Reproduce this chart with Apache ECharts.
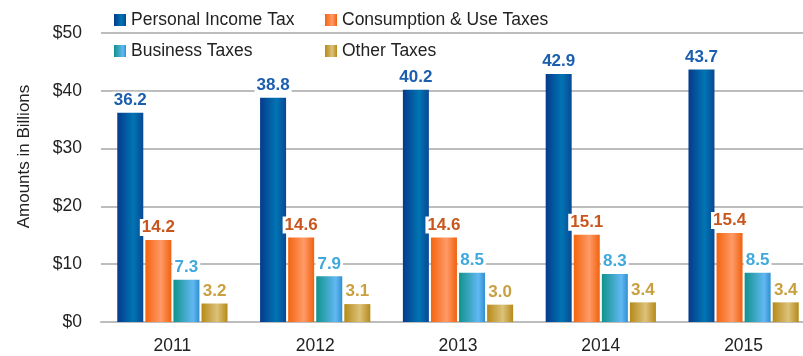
<!DOCTYPE html>
<html>
<head>
<meta charset="utf-8">
<script src="https://cdn.jsdelivr.net/npm/echarts@6/dist/echarts.min.js"></script>
<style>
  html, body { margin: 0; padding: 0; background: #fff; }
  #chart { width: 803px; height: 356px; }
</style>
</head>
<body>
<div id="chart"></div>
<script>
// Tax revenue by year, in billions of dollars
const years = ['2011', '2012', '2013', '2014', '2015'];
const personalIncome = [36.2, 38.8, 40.2, 42.9, 43.7];
const consumptionUse = [14.2, 14.6, 14.6, 15.1, 15.4];
const business = [7.3, 7.9, 8.5, 8.3, 8.5];
const other = [3.2, 3.1, 3.0, 3.4, 3.4];
const yTicks = [0, 10, 20, 30, 40, 50];

const FONT = '"Liberation Sans", Arial, sans-serif';
const TEXT_SIZE = 17.5;

function hGrad(stops) {
  return new echarts.graphic.LinearGradient(0, 0, 1, 0,
    stops.map(([o, c]) => ({ offset: o, color: c })));
}

const fills = {
  personal: hGrad([[0, '#063a8c'], [0.62, '#0075b3'], [1, '#0a4894']]),
  consumption: hGrad([[0, '#f4640e'], [0.6, '#ff9a68'], [1, '#f0620e']]),
  business: hGrad([[0, '#10938c'], [0.75, '#62b8f2'], [1, '#2f8fd0']]),
  other: hGrad([[0, '#b58a18'], [0.6, '#dcc27a'], [1, '#b58a18']])
};

function barSeries(name, data, fill, labelColor) {
  return {
    name: name,
    type: 'bar',
    data: data,
    barWidth: 26,
    barGap: '8%',
    itemStyle: { color: fill },
    label: {
      show: true,
      position: 'top',
      distance: 4,
      color: labelColor,
      fontFamily: FONT,
      fontSize: 17,
      fontWeight: 'bold',
      backgroundColor: '#fff',
      padding: [0, 2],
      formatter: p => p.value.toFixed(1)
    }
  };
}

const legendText = { color: '#222', fontFamily: FONT, fontSize: TEXT_SIZE, lineHeight: 16 };

const chart = echarts.init(document.getElementById('chart'), null, { renderer: 'canvas' });
chart.setOption({
  animation: false,
  backgroundColor: '#fff',
  legend: [
    {
      orient: 'vertical', left: 109, top: 6,
      itemWidth: 12, itemHeight: 12, itemGap: 13, itemTextGap: 9,
      icon: 'rect', textStyle: legendText,
      data: ['Personal Income Tax', 'Business Taxes']
    },
    {
      orient: 'vertical', left: 320, top: 6,
      itemWidth: 12, itemHeight: 12, itemGap: 13, itemTextGap: 9,
      icon: 'rect', textStyle: legendText,
      data: ['Consumption & Use Taxes', 'Other Taxes']
    }
  ],
  grid: { left: 101, top: 33, width: 714, bottom: 34, outerBoundsMode: 'none', containLabel: false },
  xAxis: {
    type: 'category',
    data: years,
    axisLine: { lineStyle: { color: '#bdbdbd', width: 2 } },
    axisTick: { show: false },
    axisLabel: { color: '#222', fontFamily: FONT, fontSize: TEXT_SIZE, margin: 15 }
  },
  yAxis: {
    type: 'value',
    min: yTicks[0],
    max: yTicks[yTicks.length - 1],
    interval: 10,
    name: 'Amounts in Billions',
    nameLocation: 'middle',
    nameGap: 68,
    nameTextStyle: { color: '#222', fontFamily: FONT, fontSize: 17, padding: [0, 0, 0, 42] },
    axisLine: { show: false },
    axisTick: { show: false },
    axisLabel: {
      color: '#222', fontFamily: FONT, fontSize: TEXT_SIZE, margin: 19,
      formatter: v => '$' + v
    },
    splitLine: { lineStyle: { color: '#bdbdbd', width: 2 } }
  },
  series: [
    barSeries('Personal Income Tax', personalIncome, fills.personal, '#1c5eae'),
    barSeries('Consumption & Use Taxes', consumptionUse, fills.consumption, '#c9561c'),
    barSeries('Business Taxes', business, fills.business, '#40a8dc'),
    barSeries('Other Taxes', other, fills.other, '#c9a040')
  ]
});
</script>
</body>
</html>
